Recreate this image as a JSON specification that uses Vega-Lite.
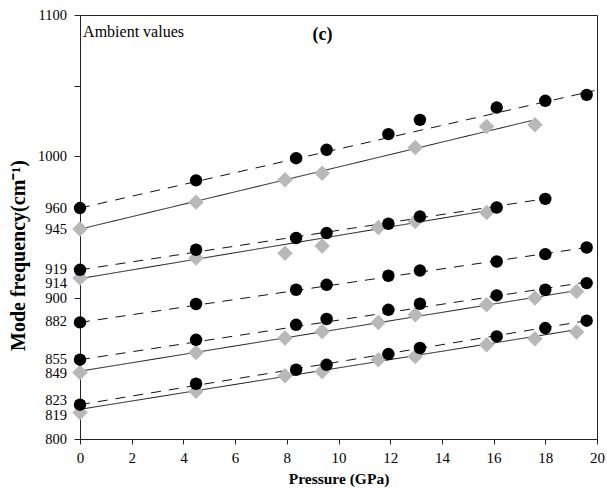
{
  "$schema": "https://vega.github.io/schema/vega-lite/v6.json",
  "width": 517,
  "height": 424,
  "autosize": "none",
  "padding": {"left": 80, "top": 15, "right": 10, "bottom": 49},
  "background": "white",
  "config": {
    "font": "Liberation Serif",
    "view": {"stroke": "#222222", "strokeWidth": 1},
    "axis": {"grid": false, "ticks": true, "domainColor": "#222222", "tickColor": "#222222", "tickWidth": 1, "labelColor": "black", "titleColor": "black", "labelFont": "Liberation Serif", "titleFont": "Liberation Serif", "labelBound": false, "labelFlush": false, "labelOverlap": false}
  },
  "datasets": {
    "points": [
      {"g": "A", "kind": "circle", "p": 0, "f": 963.4},
      {"g": "A", "kind": "circle", "p": 4.49, "f": 983.0},
      {"g": "A", "kind": "circle", "p": 8.36, "f": 998.7},
      {"g": "A", "kind": "circle", "p": 9.54, "f": 1004.6},
      {"g": "A", "kind": "circle", "p": 11.93, "f": 1015.7},
      {"g": "A", "kind": "circle", "p": 13.15, "f": 1025.8},
      {"g": "A", "kind": "circle", "p": 16.12, "f": 1034.5},
      {"g": "A", "kind": "circle", "p": 18.0, "f": 1039.3},
      {"g": "A", "kind": "circle", "p": 19.6, "f": 1043.5},
      {"g": "A", "kind": "diamond", "p": 0, "f": 948.5},
      {"g": "A", "kind": "diamond", "p": 4.49, "f": 967.6},
      {"g": "A", "kind": "diamond", "p": 7.93, "f": 983.4},
      {"g": "A", "kind": "diamond", "p": 9.37, "f": 988.1},
      {"g": "A", "kind": "diamond", "p": 12.97, "f": 1006.2},
      {"g": "A", "kind": "diamond", "p": 15.73, "f": 1021.1},
      {"g": "A", "kind": "diamond", "p": 17.6, "f": 1022.3},
      {"g": "B", "kind": "circle", "p": 0, "f": 919.7},
      {"g": "B", "kind": "circle", "p": 4.49, "f": 933.9},
      {"g": "B", "kind": "circle", "p": 8.36, "f": 942.2},
      {"g": "B", "kind": "circle", "p": 9.54, "f": 945.7},
      {"g": "B", "kind": "circle", "p": 11.93, "f": 952.3},
      {"g": "B", "kind": "circle", "p": 13.15, "f": 957.4},
      {"g": "B", "kind": "circle", "p": 16.12, "f": 963.8},
      {"g": "B", "kind": "circle", "p": 18.0, "f": 969.9},
      {"g": "B", "kind": "diamond", "p": 0, "f": 913.9},
      {"g": "B", "kind": "diamond", "p": 4.49, "f": 928.0},
      {"g": "B", "kind": "diamond", "p": 7.93, "f": 931.5},
      {"g": "B", "kind": "diamond", "p": 9.37, "f": 936.5},
      {"g": "B", "kind": "diamond", "p": 11.54, "f": 949.6},
      {"g": "B", "kind": "diamond", "p": 12.97, "f": 953.9},
      {"g": "B", "kind": "diamond", "p": 15.73, "f": 960.3},
      {"g": "C", "kind": "circle", "p": 0, "f": 882.5},
      {"g": "C", "kind": "circle", "p": 4.49, "f": 895.5},
      {"g": "C", "kind": "circle", "p": 8.36, "f": 905.6},
      {"g": "C", "kind": "circle", "p": 9.54, "f": 909.1},
      {"g": "C", "kind": "circle", "p": 11.93, "f": 915.5},
      {"g": "C", "kind": "circle", "p": 13.15, "f": 919.2},
      {"g": "C", "kind": "circle", "p": 16.12, "f": 925.6},
      {"g": "C", "kind": "circle", "p": 18.0, "f": 930.8},
      {"g": "C", "kind": "circle", "p": 19.6, "f": 935.5},
      {"g": "D", "kind": "circle", "p": 0, "f": 856.1},
      {"g": "D", "kind": "circle", "p": 4.49, "f": 870.2},
      {"g": "D", "kind": "circle", "p": 8.36, "f": 880.8},
      {"g": "D", "kind": "circle", "p": 9.54, "f": 884.9},
      {"g": "D", "kind": "circle", "p": 11.93, "f": 891.4},
      {"g": "D", "kind": "circle", "p": 13.15, "f": 895.7},
      {"g": "D", "kind": "circle", "p": 16.12, "f": 901.6},
      {"g": "D", "kind": "circle", "p": 18.0, "f": 905.6},
      {"g": "D", "kind": "circle", "p": 19.6, "f": 910.3},
      {"g": "D", "kind": "diamond", "p": 0, "f": 847.1},
      {"g": "D", "kind": "diamond", "p": 4.49, "f": 861.2},
      {"g": "D", "kind": "diamond", "p": 7.93, "f": 871.4},
      {"g": "D", "kind": "diamond", "p": 9.37, "f": 876.1},
      {"g": "D", "kind": "diamond", "p": 11.54, "f": 882.5},
      {"g": "D", "kind": "diamond", "p": 12.97, "f": 887.9},
      {"g": "D", "kind": "diamond", "p": 15.73, "f": 895.0},
      {"g": "D", "kind": "diamond", "p": 17.6, "f": 899.7},
      {"g": "D", "kind": "diamond", "p": 19.21, "f": 904.4},
      {"g": "E", "kind": "circle", "p": 0, "f": 824.3},
      {"g": "E", "kind": "circle", "p": 4.49, "f": 839.1},
      {"g": "E", "kind": "circle", "p": 8.36, "f": 849.0},
      {"g": "E", "kind": "circle", "p": 9.54, "f": 852.5},
      {"g": "E", "kind": "circle", "p": 11.93, "f": 860.1},
      {"g": "E", "kind": "circle", "p": 13.15, "f": 864.4},
      {"g": "E", "kind": "circle", "p": 16.12, "f": 872.6},
      {"g": "E", "kind": "circle", "p": 18.0, "f": 878.5},
      {"g": "E", "kind": "circle", "p": 19.6, "f": 883.7},
      {"g": "E", "kind": "diamond", "p": 0, "f": 818.8},
      {"g": "E", "kind": "diamond", "p": 4.49, "f": 833.7},
      {"g": "E", "kind": "diamond", "p": 7.93, "f": 844.8},
      {"g": "E", "kind": "diamond", "p": 9.37, "f": 847.8},
      {"g": "E", "kind": "diamond", "p": 11.54, "f": 856.1},
      {"g": "E", "kind": "diamond", "p": 12.97, "f": 858.4},
      {"g": "E", "kind": "diamond", "p": 15.73, "f": 866.7},
      {"g": "E", "kind": "diamond", "p": 17.6, "f": 870.9},
      {"g": "E", "kind": "diamond", "p": 19.21, "f": 875.7}
    ],
    "fits": [
      {"line": "A-dashed", "style": "dashed", "p": 0, "f": 963.4},
      {"line": "A-dashed", "style": "dashed", "p": 19.9, "f": 1046.5},
      {"line": "A-solid", "style": "solid", "p": 0, "f": 948.5},
      {"line": "A-solid", "style": "solid", "p": 17.47, "f": 1025.3},
      {"line": "B-dashed", "style": "dashed", "p": 0, "f": 919.7},
      {"line": "B-dashed", "style": "dashed", "p": 18.0, "f": 970.0},
      {"line": "B-solid", "style": "solid", "p": 0, "f": 913.5},
      {"line": "B-solid", "style": "solid", "p": 15.9, "f": 962.0},
      {"line": "C-dashed", "style": "dashed", "p": 0, "f": 882.5},
      {"line": "C-dashed", "style": "dashed", "p": 19.6, "f": 935.5},
      {"line": "D-dashed", "style": "dashed", "p": 0, "f": 856.1},
      {"line": "D-dashed", "style": "dashed", "p": 19.6, "f": 911.0},
      {"line": "D-solid", "style": "solid", "p": 0, "f": 848.0},
      {"line": "D-solid", "style": "solid", "p": 19.2, "f": 905.0},
      {"line": "E-dashed", "style": "dashed", "p": 0, "f": 824.3},
      {"line": "E-dashed", "style": "dashed", "p": 19.6, "f": 883.7},
      {"line": "E-solid", "style": "solid", "p": 0, "f": 821.0},
      {"line": "E-solid", "style": "solid", "p": 19.2, "f": 877.3}
    ],
    "ylabels": [
      {"label": "800", "f": 800},
      {"label": "819", "f": 816.9},
      {"label": "823", "f": 827.6},
      {"label": "849", "f": 846.4},
      {"label": "855", "f": 856.4},
      {"label": "882", "f": 883.7},
      {"label": "900", "f": 900},
      {"label": "914", "f": 910.4},
      {"label": "919", "f": 920.5},
      {"label": "945", "f": 948.5},
      {"label": "960", "f": 963.4},
      {"label": "1000", "f": 1000},
      {"label": "1100", "f": 1100}
    ],
    "notes": [
      {"label": "Ambient values", "p": 0.12, "f": 1084.2, "kind": "plain"},
      {"label": "(c)", "p": 9.38, "f": 1082.0, "kind": "bold"}
    ]
  },
  "layer": [
    {
      "data": {"name": "fits"},
      "mark": {"type": "line", "color": "#111111", "strokeWidth": 1},
      "encoding": {
        "x": {"field": "p", "type": "quantitative", "scale": {"domain": [0, 20], "nice": false},
          "axis": {"title": "Pressure (GPa)", "titleFontSize": 15.5, "titleFontWeight": "bold", "titlePadding": 6,
            "values": [0,1,2,3,4,5,6,7,8,9,10,11,12,13,14,15,16,17,18,19,20],
            "labelExpr": "datum.value % 2 == 0 ? datum.label : ''",
            "labelFontSize": 15, "labelPadding": 6,
            "tickSize": 5}},
        "y": {"field": "f", "type": "quantitative", "scale": {"domain": [800, 1100], "nice": false, "zero": false},
          "axis": {"title": "Mode frequency(cm⁻¹)", "titleFontSize": 20, "titleFontWeight": "bold", "titleX": -52, "titleY": 240,
            "values": [800, 900, 1000, 1050, 1100],
            "labels": false,
            "tickSize": 6}},
        "detail": {"field": "line", "type": "nominal"},
        "strokeDash": {"field": "style", "type": "nominal", "scale": {"domain": ["dashed", "solid"], "range": [[10, 8], [1, 0]]}, "legend": null}
      }
    },
    {
      "data": {"name": "points"},
      "transform": [{"filter": "datum.kind == 'diamond'"}],
      "mark": {"type": "point", "shape": "diamond", "filled": true, "color": "#b8b8b8", "opacity": 1, "size": 240},
      "encoding": {
        "x": {"field": "p", "type": "quantitative"},
        "y": {"field": "f", "type": "quantitative"}
      }
    },
    {
      "data": {"name": "points"},
      "transform": [{"filter": "datum.kind == 'circle'"}],
      "mark": {"type": "point", "shape": "circle", "filled": true, "color": "black", "opacity": 1, "size": 155},
      "encoding": {
        "x": {"field": "p", "type": "quantitative"},
        "y": {"field": "f", "type": "quantitative"}
      }
    },
    {
      "data": {"name": "ylabels"},
      "mark": {"type": "text", "align": "right", "baseline": "middle", "dx": -13, "dy": 1, "fontSize": 14.5, "font": "Liberation Serif", "color": "black"},
      "encoding": {
        "x": {"datum": 0},
        "y": {"field": "f", "type": "quantitative"},
        "text": {"field": "label", "type": "nominal"}
      }
    },
    {
      "data": {"name": "notes"},
      "transform": [{"filter": "datum.kind == 'plain'"}],
      "mark": {"type": "text", "align": "left", "baseline": "alphabetic", "fontSize": 16, "font": "Liberation Serif", "color": "black"},
      "encoding": {
        "x": {"field": "p", "type": "quantitative"},
        "y": {"field": "f", "type": "quantitative"},
        "text": {"field": "label", "type": "nominal"}
      }
    },
    {
      "data": {"name": "notes"},
      "transform": [{"filter": "datum.kind == 'bold'"}],
      "mark": {"type": "text", "align": "center", "baseline": "alphabetic", "fontSize": 18, "fontWeight": "bold", "font": "Liberation Serif", "color": "black"},
      "encoding": {
        "x": {"field": "p", "type": "quantitative"},
        "y": {"field": "f", "type": "quantitative"},
        "text": {"field": "label", "type": "nominal"}
      }
    }
  ]
}
